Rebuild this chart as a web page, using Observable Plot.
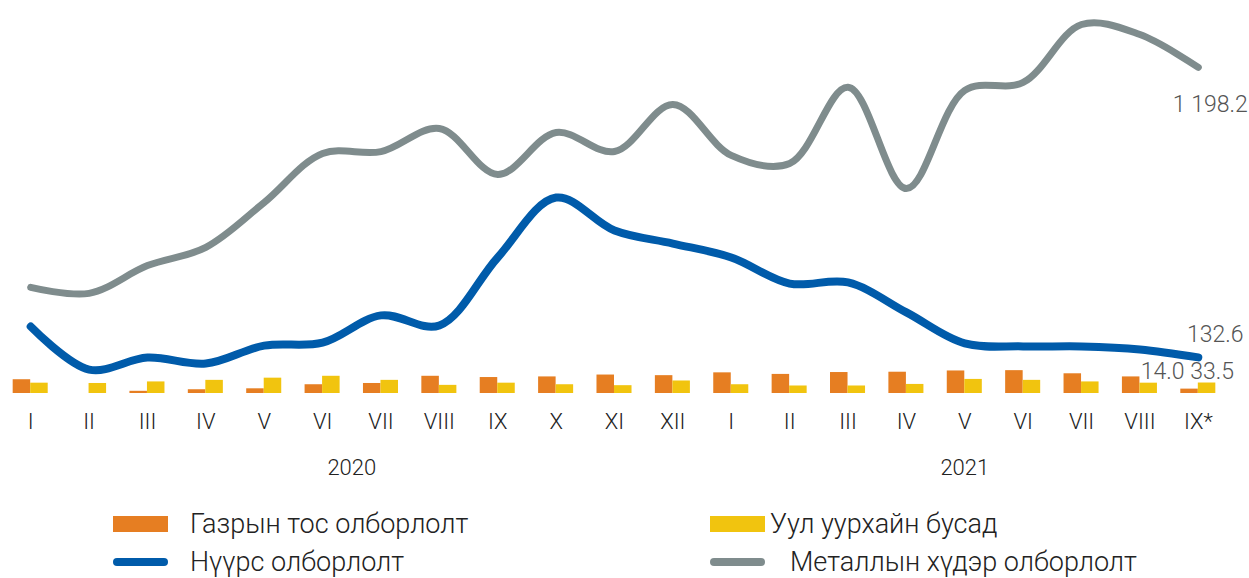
<!DOCTYPE html>
<html>
<head>
<meta charset="utf-8">
<script src="https://cdn.jsdelivr.net/npm/d3@7"></script>
<script src="https://cdn.jsdelivr.net/npm/@observablehq/plot@0.6"></script>
<style>
  body { margin: 0; background: #fff; font-family: Roboto, "Noto Sans", sans-serif; }
  #wrap { position: relative; width: 1249px; height: 578px; overflow: hidden; }
  .leg { position: absolute; display: flex; align-items: center; font-size: 27px; font-weight: 300; color: #222; white-space: nowrap; line-height: 1; }
  .sw { width: 55px; height: 16px; }
  .ln { width: 55px; height: 8px; border-radius: 4px; }
</style>
</head>
<body>
<div id="wrap">
  <div id="chart"></div>
  <div class="leg" style="left:113px; top:508px; height:32px;"><div class="sw" style="background:#E67E22"></div><span style="margin-left:22px">Газрын тос олборлолт</span></div>
  <div class="leg" style="left:710px; top:508px; height:32px;"><div class="sw" style="background:#F1C40F"></div><span style="margin-left:5px">Уул уурхайн бусад</span></div>
  <div class="leg" style="left:113px; top:546px; height:32px;"><div class="ln" style="background:#005BAA"></div><span style="margin-left:22px">Нүүрс олборлолт</span></div>
  <div class="leg" style="left:710px; top:546px; height:32px;"><div class="ln" style="background:#7F8C8D"></div><span style="margin-left:25px">Металлын хүдэр олборлолт</span></div>
</div>
<script>
const months = ["I","II","III","IV","V","VI","VII","VIII","IX","X","XI","XII","I","II","III","IV","V","VI","VII","VIII","IX*"];
const years = ["2020", "2021"];
const yearCenters = [5.5, 16];
const metal = [390, 368, 470, 537, 702, 882, 889, 974, 805, 959, 889, 1062, 875, 845, 1125, 753, 1114, 1143, 1356, 1319, 1198.2];
const coal  = [246, 88, 132, 110, 176, 187, 287, 250, 500, 720, 599, 551, 500, 404, 408, 298, 184, 173, 173, 162, 132.6];
const oil   = [44, 0, 7, 12, 15, 28, 32, 55, 51, 53, 59, 57, 66, 61, 67, 68, 72, 73, 63, 53, 14.0];
const other = [33, 32, 37, 42, 49, 55, 42, 26, 33, 28, 25, 40, 28, 24, 24, 29, 45, 42, 37, 33, 33.5];

// bars are on a secondary axis in the original; ratio between the two axes
const barAxisRatio = 1.15;

const idx = months.map((m, i) => i);
const last = months.length - 1;
const fmt = v => d3.format(",.1f")(v).replace(/,/g, " ");

const barW = 0.3;
const chart = Plot.plot({
  width: 1249,
  height: 490,
  marginTop: 12,
  marginBottom: 97,
  marginLeft: 1,
  marginRight: 22,
  x: { type: "linear", domain: [-0.5, months.length - 0.5], axis: null },
  y: { domain: [0, 1400], axis: null },
  style: { fontFamily: "Roboto, 'Noto Sans', sans-serif", background: "#fff" },
  marks: [
    Plot.rectY(idx, { x1: i => i - barW, x2: i => i, y1: 0, y2: i => oil[i] * barAxisRatio, fill: "#E67E22" }),
    Plot.rectY(idx, { x1: i => i, x2: i => i + barW, y1: 0, y2: i => other[i] * barAxisRatio, fill: "#F1C40F" }),
    Plot.line(idx, { x: i => i, y: i => metal[i], stroke: "#7F8C8D", strokeWidth: 7, curve: "catmull-rom", strokeLinecap: "round", strokeLinejoin: "round" }),
    Plot.line(idx, { x: i => i, y: i => coal[i], stroke: "#005BAA", strokeWidth: 8, curve: "catmull-rom", strokeLinecap: "round", strokeLinejoin: "round" }),
    Plot.axisX({ ticks: idx, tickFormat: i => months[i], tickSize: 0, tickPadding: 20, fontSize: 22, fontWeight: 300, fill: "#222" }),
    Plot.text(years, { x: (d, i) => yearCenters[i], text: d => d, frameAnchor: "bottom", dy: 81, fontSize: 22, fontWeight: 300, fill: "#222" }),
    Plot.text([last], { x: i => i, y: i => metal[i], text: i => fmt(metal[i]), dx: 12, dy: 37, fontSize: 23, fontWeight: 300, fill: "#555" }),
    Plot.text([last], { x: i => i, y: i => coal[i], text: i => fmt(coal[i]), dx: 17, dy: -23, fontSize: 23, fontWeight: 300, fill: "#555" }),
    Plot.text([last], { x: i => i - barW / 2, y: i => oil[i] * barAxisRatio, text: i => fmt(oil[i]), dx: -27, dy: -17, fontSize: 23, fontWeight: 300, fill: "#555" }),
    Plot.text([last], { x: i => i + barW / 2, y: i => other[i] * barAxisRatio, text: i => fmt(other[i]), dx: 5, dy: -11, fontSize: 23, fontWeight: 300, fill: "#555" })
  ]
});
document.getElementById("chart").appendChild(chart);
</script>
</body>
</html>
